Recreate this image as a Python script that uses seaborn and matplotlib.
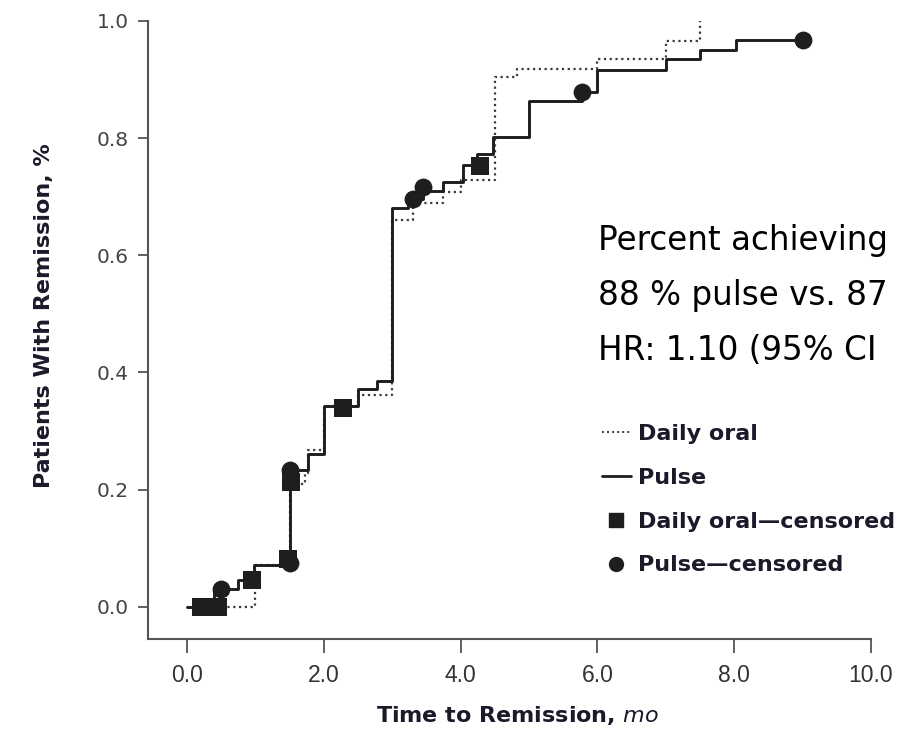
import matplotlib
matplotlib.use("Agg")
import matplotlib.pyplot as plt
from matplotlib.lines import Line2D
import seaborn as sns
import pandas as pd

# Kaplan-Meier style cumulative remission curves (step vertices)
pulse_time = [0.0, 0.4, 0.75, 0.98, 1.5, 1.77, 2.0, 2.5, 2.78, 3.0, 3.23, 3.45,
              3.74, 4.03, 4.24, 4.47, 5.0, 5.77, 6.0, 7.0, 7.5, 8.03, 9.0]
pulse_rate = [0.0, 0.03, 0.045, 0.072, 0.234, 0.26, 0.343, 0.372, 0.386, 0.681,
              0.696, 0.71, 0.725, 0.754, 0.773, 0.802, 0.864, 0.879, 0.916,
              0.935, 0.95, 0.968, 0.968]

oral_time = [0.0, 1.0, 1.5, 1.72, 1.77, 2.0, 2.5, 3.0, 3.3, 3.75, 4.0, 4.5,
             4.82, 6.0, 7.0, 7.5]
oral_rate = [0.0, 0.072, 0.21, 0.228, 0.268, 0.343, 0.362, 0.66, 0.69, 0.708,
             0.728, 0.904, 0.918, 0.935, 0.966, 1.0]

# Censored observations
pulse_cens_time = [0.5, 1.5, 1.5, 3.3, 3.45, 5.77, 9.0]
pulse_cens_rate = [0.03, 0.075, 0.234, 0.696, 0.717, 0.879, 0.968]
oral_cens_time = [0.2, 0.3, 0.45, 0.95, 1.48, 1.52, 2.28, 4.28]
oral_cens_rate = [0.0, 0.0, 0.0, 0.045, 0.082, 0.213, 0.34, 0.753]

x_ticks = [0, 2, 4, 6, 8, 10]
x_tick_labels = ["0.0", "2.0", "4.0", "6.0", "8.0", "10.0"]
y_ticks = [0.0, 0.2, 0.4, 0.6, 0.8, 1.0]
y_tick_labels = ["0.0", "0.2", "0.4", "0.6", "0.8", "1.0"]

annotation_lines = ["Percent achieving",
                    "88 % pulse vs. 87",
                    "HR: 1.10 (95% CI"]

legend_labels = ["Daily oral", "Pulse", "Daily oral\u2014censored", "Pulse\u2014censored"]

sns.set_style("white")
plt.rcParams["font.family"] = ["DejaVu Sans"]

W, H = 899, 738
fig = plt.figure(figsize=(W / 100, H / 100), dpi=100)
ax = fig.add_axes([148 / W, 1 - 639 / H, (871 - 148) / W, (639 - 21) / H])

ink = "#1e1e1e"
oral_df = pd.DataFrame({"t": oral_time, "p": oral_rate})
pulse_df = pd.DataFrame({"t": pulse_time, "p": pulse_rate})

sns.lineplot(data=oral_df, x="t", y="p", ax=ax, estimator=None, sort=False,
             drawstyle="steps-post", color="#3a3a3a", linestyle=(0, (1, 1.6)),
             linewidth=1.6, clip_on=False, zorder=2)
sns.lineplot(data=pulse_df, x="t", y="p", ax=ax, estimator=None, sort=False,
             drawstyle="steps-post", color=ink, linewidth=2.1,
             clip_on=False, zorder=3)

sns.scatterplot(x=oral_cens_time, y=oral_cens_rate, ax=ax, marker="s", s=150,
                color=ink, edgecolor=ink, linewidth=0, zorder=4, clip_on=False)
sns.scatterplot(x=pulse_cens_time, y=pulse_cens_rate, ax=ax, marker="o", s=165,
                color=ink, edgecolor=ink, linewidth=0, zorder=4, clip_on=False)

ax.set_xlim(-0.57, 10)
ax.set_ylim(-0.055, 1.0)
ax.set_xticks(x_ticks)
ax.set_xticklabels(x_tick_labels, family=["Liberation Sans", "DejaVu Sans"],
                   fontsize=16.5, color="#333333")
ax.set_yticks(y_ticks)
ax.set_yticklabels(y_tick_labels, fontsize=14.5, color="#444444")
ax.tick_params(axis="x", direction="out", length=10, width=1.3, pad=8,
               color="#555555", bottom=True)
ax.tick_params(axis="y", direction="out", length=7, width=1.3, pad=7,
               color="#555555", left=True)

for side in ("top", "right"):
    ax.spines[side].set_visible(False)
for side in ("left", "bottom"):
    ax.spines[side].set_color("#555555")
    ax.spines[side].set_linewidth(1.5)

ax.set_xlabel("Time to Remission, $\\it{mo}$", fontsize=16, fontweight="bold",
              color="#1a1a2a")
ax.set_ylabel("Patients With Remission, %", fontsize=16, fontweight="bold",
              color="#1a1a2a")
ax.xaxis.set_label_coords((518 - 148) / 723, -(704 - 639) / 618)
ax.yaxis.set_label_coords((54 - 148) / 723, (639 - 316) / 618)

for i, line in enumerate(annotation_lines):
    fig.text(598 / W, 1 - (250 + 55 * i) / H, line, fontsize=23.5,
             color="black", va="baseline")

handles = [
    Line2D([], [], color="#3a3a3a", linestyle=(0, (1, 1.6)), linewidth=1.4),
    Line2D([], [], color=ink, linewidth=2.0),
    Line2D([], [], color=ink, marker="s", linestyle="none", markersize=10),
    Line2D([], [], color=ink, marker="o", linestyle="none", markersize=10),
]
leg = fig.legend(handles, legend_labels, loc="upper left",
                 bbox_to_anchor=(582 / W, 1 - 404 / H), frameon=False,
                 handlelength=1.3, handletextpad=0.3, labelspacing=1.07,
                 prop={"weight": "bold", "size": 16})
for t in leg.get_texts():
    t.set_color("#1a1a2a")

fig.savefig("out.png", dpi=100)
